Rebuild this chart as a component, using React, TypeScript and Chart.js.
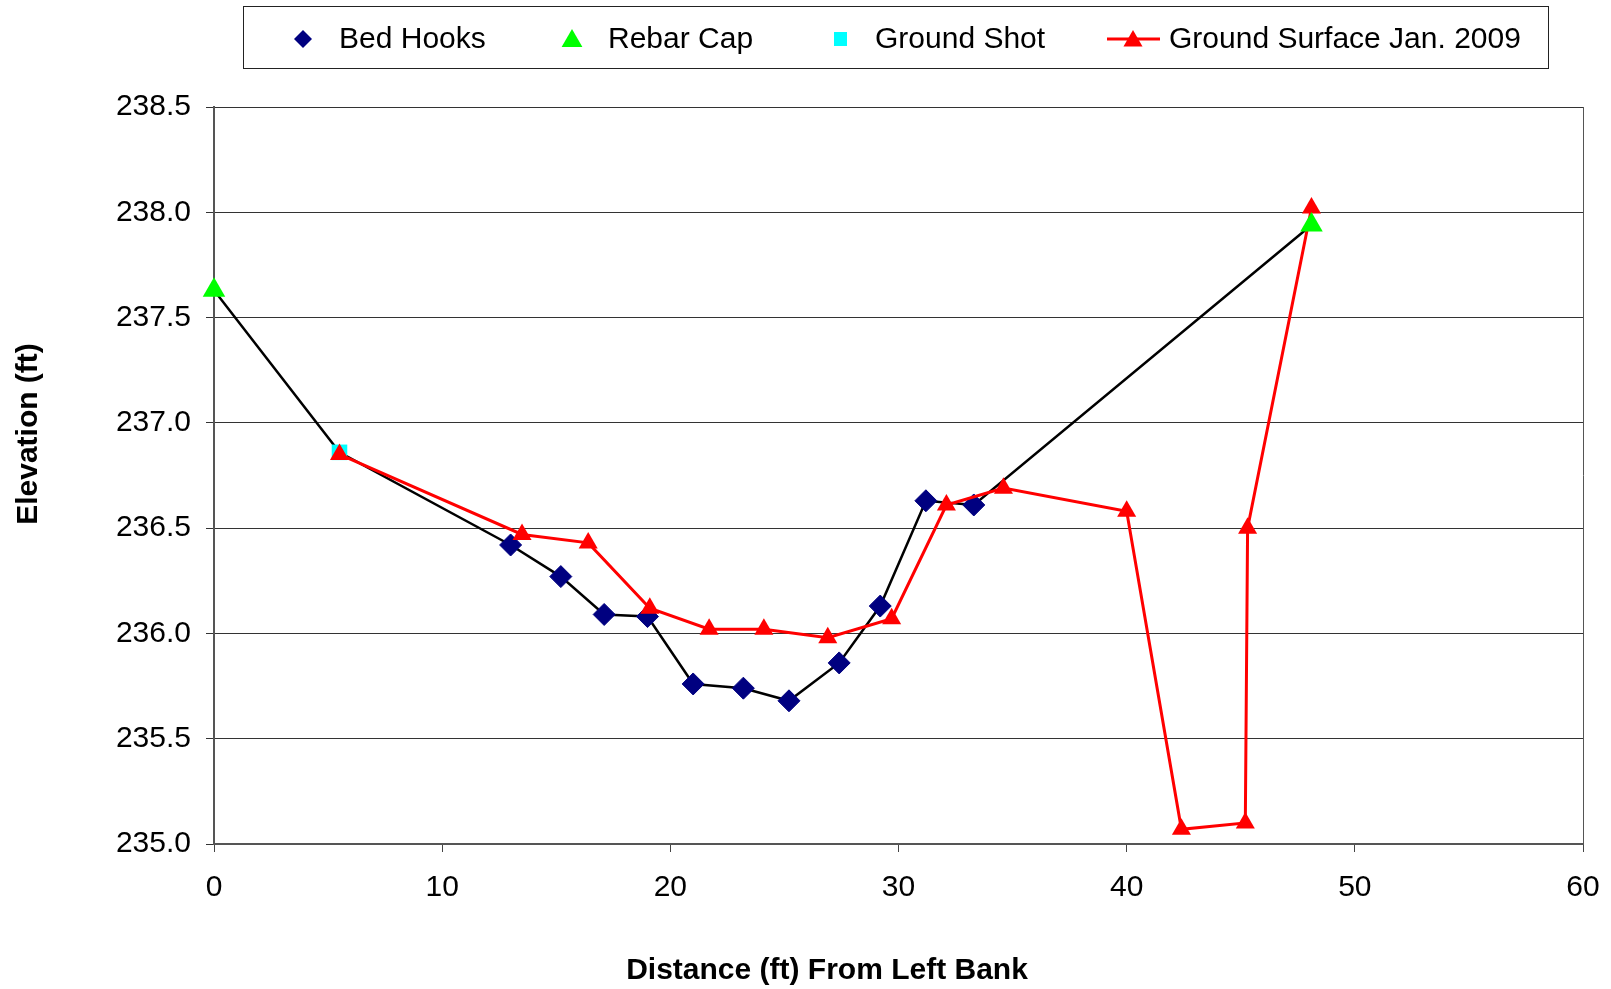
import React, { useEffect, useRef } from "react";
import { Chart, registerables } from "chart.js";

Chart.register(...registerables);

// ---- Data ----
const bedHooksX = [13.0, 15.2, 17.1, 19.0, 21.0, 23.2, 25.2, 27.4, 29.2, 31.2, 33.3];
const bedHooksY = [236.42, 236.27, 236.09, 236.08, 235.76, 235.74, 235.68, 235.86, 236.13, 236.63, 236.61];

const rebarCapX = [0, 48.1];
const rebarCapY = [237.63, 237.94];

const groundShotX = [5.5];
const groundShotY = [236.86];

const surfaceX = [5.5, 13.5, 16.4, 19.1, 21.7, 24.1, 26.9, 29.7, 32.1, 34.6, 40.0, 42.4, 45.2, 45.3, 48.1];
const surfaceY = [236.85, 236.47, 236.43, 236.12, 236.02, 236.02, 235.98, 236.07, 236.61, 236.69, 236.58, 235.07, 235.1, 236.5, 238.02];

const legendLabels = ["Bed Hooks", "Rebar Cap", "Ground Shot", "Ground Surface Jan. 2009"];
const xTitle = "Distance (ft) From Left Bank";
const yTitle = "Elevation (ft)";

const toPts = (xs: number[], ys: number[]) => xs.map((x, i) => ({ x, y: ys[i] }));

const FONT = "'Liberation Sans', Arial, sans-serif";

function drawDiamond(ctx: CanvasRenderingContext2D, x: number, y: number, r: number, color: string) {
  ctx.beginPath();
  ctx.moveTo(x - r, y);
  ctx.lineTo(x, y - r);
  ctx.lineTo(x + r, y);
  ctx.lineTo(x, y + r);
  ctx.closePath();
  ctx.fillStyle = color;
  ctx.fill();
}
function drawTriangle(ctx: CanvasRenderingContext2D, x: number, y: number, r: number, color: string) {
  ctx.beginPath();
  ctx.moveTo(x, y - r);
  ctx.lineTo(x + 0.866 * r, y + 0.5 * r);
  ctx.lineTo(x - 0.866 * r, y + 0.5 * r);
  ctx.closePath();
  ctx.fillStyle = color;
  ctx.fill();
}

const overlayPlugin = {
  id: "overlay",
  afterDraw(chart: any) {
    const ctx: CanvasRenderingContext2D = chart.ctx;
    const area = chart.chartArea;
    ctx.save();
    // right border of plot area
    ctx.strokeStyle = "#555";
    ctx.lineWidth = 1;
    ctx.beginPath();
    ctx.moveTo(Math.round(area.right) + 0.5, area.top);
    ctx.lineTo(Math.round(area.right) + 0.5, area.bottom);
    ctx.stroke();

    // legend box
    ctx.strokeStyle = "#222";
    ctx.lineWidth = 1;
    ctx.strokeRect(243.5, 6.5, 1305, 62);
    const ly = 39;
    ctx.font = `30px ${FONT}`;
    ctx.textBaseline = "middle";
    ctx.textAlign = "left";
    drawDiamond(ctx, 303, ly, 9, "#000080");
    ctx.fillStyle = "#000";
    ctx.fillText(legendLabels[0], 339, ly + 1);
    drawTriangle(ctx, 572, ly + 2, 12, "#00FF00");
    ctx.fillStyle = "#000";
    ctx.fillText(legendLabels[1], 608, ly + 1);
    ctx.fillStyle = "#00FFFF";
    ctx.fillRect(834, ly - 7, 13, 14);
    ctx.fillStyle = "#000";
    ctx.fillText(legendLabels[2], 875, ly + 1);
    ctx.strokeStyle = "#FF0000";
    ctx.lineWidth = 3;
    ctx.beginPath();
    ctx.moveTo(1107, ly);
    ctx.lineTo(1160, ly);
    ctx.stroke();
    drawTriangle(ctx, 1133, ly + 2, 11, "#FF0000");
    ctx.fillStyle = "#000";
    ctx.fillText(legendLabels[3], 1169, ly + 1);

    // axis titles
    ctx.font = `bold 30px ${FONT}`;
    ctx.fillStyle = "#000";
    ctx.textAlign = "center";
    ctx.textBaseline = "middle";
    ctx.fillText(xTitle, 827, 971);
    ctx.save();
    ctx.translate(29, 434);
    ctx.rotate(-Math.PI / 2);
    ctx.fillText(yTitle, 0, 0);
    ctx.restore();
    ctx.restore();
  },
};

export default function App() {
  const ref = useRef<HTMLCanvasElement>(null);
  useEffect(() => {
    document.body.style.margin = "0";
    const canvas = ref.current!;
    const bed = toPts(bedHooksX, bedHooksY);
    const rebar = toPts(rebarCapX, rebarCapY);
    const shot = toPts(groundShotX, groundShotY);
    const surface = toPts(surfaceX, surfaceY);
    const profile = [rebar[0], ...shot, ...bed, rebar[rebar.length - 1]];

    const chart = new Chart(canvas, {
      type: "scatter",
      data: {
        datasets: [
          {
            label: legendLabels[1],
            data: rebar,
            showLine: false,
            clip: false,
            pointStyle: "triangle",
            pointRadius: 13,
            pointBackgroundColor: "#00FF00",
            pointBorderColor: "#00FF00",
            pointBorderWidth: 0,
            order: 0,
          },
          {
            label: legendLabels[3],
            data: surface,
            showLine: true,
            clip: false,
            borderColor: "#FF0000",
            borderWidth: 3,
            pointStyle: "triangle",
            pointRadius: 11,
            pointBackgroundColor: "#FF0000",
            pointBorderColor: "#FF0000",
            pointBorderWidth: 0,
            order: 1,
          },
          {
            label: legendLabels[2],
            data: shot,
            showLine: false,
            pointStyle: "rect",
            pointRadius: 11,
            pointBackgroundColor: "#00FFFF",
            pointBorderColor: "#00FFFF",
            pointBorderWidth: 0,
            order: 2,
          },
          {
            label: legendLabels[0],
            data: bed,
            showLine: false,
            pointStyle: "rectRot",
            pointRadius: 11,
            pointBackgroundColor: "#000080",
            pointBorderColor: "#000080",
            pointBorderWidth: 1,
            order: 3,
          },
          {
            label: "profile",
            data: profile,
            showLine: true,
            borderColor: "#000000",
            borderWidth: 2.5,
            pointRadius: 0,
            order: 4,
          },
        ],
      },
      options: {
        responsive: false,
        animation: false,
        layout: { padding: { left: 0, top: 107, right: 28, bottom: 0 } },
        plugins: {
          legend: { display: false },
          tooltip: { enabled: false },
          title: { display: false },
        },
        scales: {
          x: {
            type: "linear",
            min: 0,
            max: 60,
            ticks: {
              stepSize: 10,
              color: "#000",
              font: { family: FONT, size: 30 },
              padding: 18,
            },
            grid: {
              display: true,
              drawOnChartArea: false,
              drawTicks: true,
              tickLength: 8,
              color: "#444",
            },
            border: { display: true, color: "#555", width: 2 },
            afterFit: (scale: any) => {
              scale.height = 145;
              scale.paddingLeft = 0;
              scale.paddingRight = 0;
            },
          },
          y: {
            type: "linear",
            min: 235,
            max: 238.5,
            ticks: {
              stepSize: 0.5,
              color: "#000",
              font: { family: FONT, size: 30 },
              padding: 15,
              callback: (v: any) => Number(v).toFixed(1),
            },
            grid: {
              color: "#333",
              lineWidth: 1,
              tickLength: 8,
            },
            border: { display: true, color: "#555", width: 2 },
            afterFit: (scale: any) => {
              scale.width = 214;
              scale.paddingTop = 0;
              scale.paddingBottom = 0;
            },
          },
        },
      },
      plugins: [overlayPlugin],
    });
    return () => chart.destroy();
  }, []);
  return (
    <div style={{ position: "absolute", left: 0, top: 0, width: 1611, height: 989, background: "#fff" }}>
      <canvas ref={ref} width={1611} height={989} style={{ display: "block" }} />
    </div>
  );
}
